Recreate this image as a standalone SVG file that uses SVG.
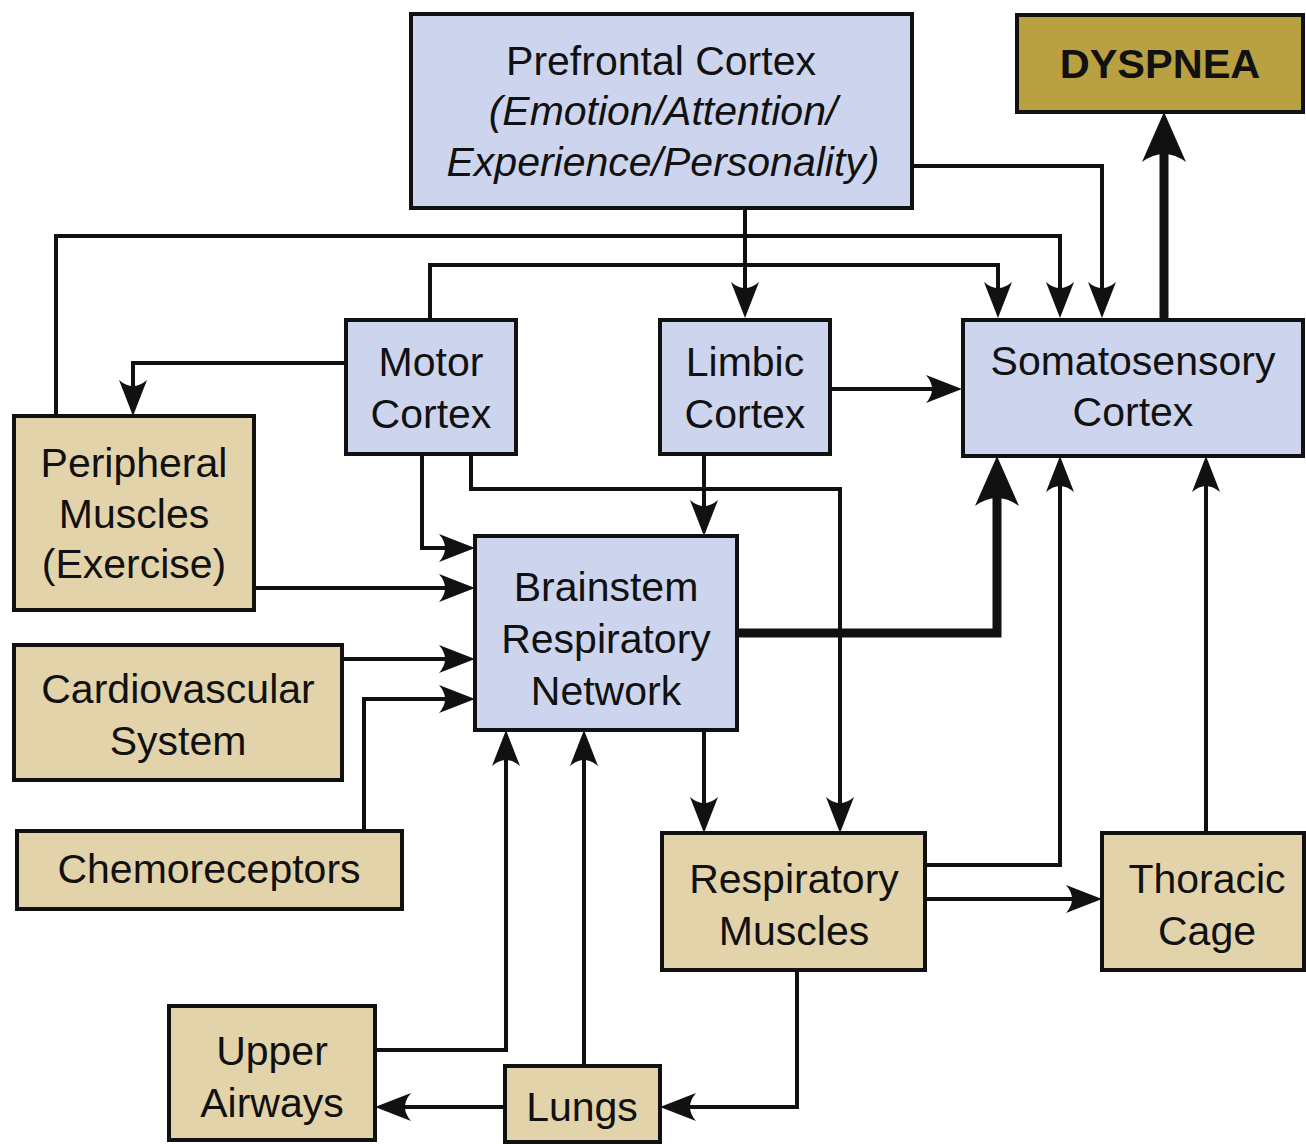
<svg xmlns="http://www.w3.org/2000/svg" width="1306" height="1144" viewBox="0 0 1306 1144">
<style>
.blue{fill:#cdd5ee;stroke:#111;stroke-width:4}
.tan{fill:#e3d3aa;stroke:#111;stroke-width:4}
.gold{fill:#b9a040;stroke:#111;stroke-width:4}
text{font-family:"Liberation Sans",Arial,sans-serif;font-size:41px;fill:#111;text-anchor:middle}
.it{font-style:italic}
.bold{font-weight:bold;font-size:41.5px}
.c{fill:none;stroke:#111;stroke-width:4;stroke-linejoin:miter}
.thin{marker-end:url(#ah)}
.thick{fill:none;stroke:#111;stroke-width:9;stroke-linejoin:miter;marker-end:url(#ahb)}
</style>
<defs>
<marker id="ah" markerUnits="userSpaceOnUse" markerWidth="36" markerHeight="30" refX="14" refY="15" orient="auto">
<path d="M0,1 L36,15 L0,29 Q12,15 0,1 Z" fill="#111"/>
</marker>
<marker id="ahb" markerUnits="userSpaceOnUse" markerWidth="50" markerHeight="44" refX="20" refY="22" orient="auto">
<path d="M0,0 L50,22 L0,44 Q16,22 0,0 Z" fill="#111"/>
</marker>
</defs>
<g id="prefrontal">
<rect class="blue" x="411" y="14" width="501" height="194"/>
<text x="661" y="75">Prefrontal Cortex</text>
<text class="it" x="663" y="125">(Emotion/Attention/</text>
<text class="it" x="663" y="176">Experience/Personality)</text>
</g>
<g id="dyspnea">
<rect class="gold" x="1017" y="15" width="286" height="97"/>
<text class="bold" x="1160" y="78">DYSPNEA</text>
</g>
<g id="motor">
<rect class="blue" x="346" y="320" width="170" height="134"/>
<text x="431" y="376">Motor</text>
<text x="431" y="428">Cortex</text>
</g>
<g id="limbic">
<rect class="blue" x="660" y="320" width="170" height="134"/>
<text x="745" y="376">Limbic</text>
<text x="745" y="428">Cortex</text>
</g>
<g id="somatosensory">
<rect class="blue" x="963" y="320" width="340" height="136"/>
<text x="1133" y="375">Somatosensory</text>
<text x="1133" y="426">Cortex</text>
</g>
<g id="peripheral">
<rect class="tan" x="14" y="416" width="240" height="194"/>
<text x="134" y="477">Peripheral</text>
<text x="134" y="528">Muscles</text>
<text x="134" y="578">(Exercise)</text>
</g>
<g id="brainstem">
<rect class="blue" x="475" y="536" width="262" height="194"/>
<text x="606" y="601">Brainstem</text>
<text x="606" y="653">Respiratory</text>
<text x="606" y="705">Network</text>
</g>
<g id="cardiovascular">
<rect class="tan" x="14" y="645" width="328" height="135"/>
<text x="178" y="703">Cardiovascular</text>
<text x="178" y="755">System</text>
</g>
<g id="chemoreceptors">
<rect class="tan" x="17" y="831" width="385" height="78"/>
<text x="209" y="883">Chemoreceptors</text>
</g>
<g id="respmuscles">
<rect class="tan" x="662" y="833" width="263" height="137"/>
<text x="794" y="893">Respiratory</text>
<text x="794" y="945">Muscles</text>
</g>
<g id="thoracic">
<rect class="tan" x="1102" y="833" width="202" height="137"/>
<text x="1207" y="893">Thoracic</text>
<text x="1207" y="945">Cage</text>
</g>
<g id="upperairways">
<rect class="tan" x="169" y="1006" width="206" height="134"/>
<text x="272" y="1065">Upper</text>
<text x="272" y="1117">Airways</text>
</g>
<g id="lungs">
<rect class="tan" x="505" y="1066" width="155" height="76"/>
<text x="582" y="1121">Lungs</text>
</g>
<g id="connectors">
<path class="c thin" d="M745,208 V296"/>
<path class="c thin" d="M912,166 H1102 V296"/>
<path class="c thin" d="M56,416 V236 H1060 V296"/>
<path class="c thin" d="M430,320 V265 H998 V296"/>
<path class="c thin" d="M346,363 H133 V394"/>
<path class="c thin" d="M830,389 H940"/>
<path class="c thin" d="M422,454 V548 H453"/>
<path class="c thin" d="M471,454 V489 H840 V811"/>
<path class="c thin" d="M704,454 V514"/>
<path class="c thin" d="M254,588 H453"/>
<path class="c thin" d="M342,659 H453"/>
<path class="c thin" d="M364,831 V699 H453"/>
<path class="c thin" d="M704,730 V811"/>
<path class="c thin" d="M375,1050 H506 V752"/>
<path class="c thin" d="M584,1066 V752"/>
<path class="c thin" d="M797,970 V1107 H682"/>
<path class="c thin" d="M505,1107 H397"/>
<path class="c thin" d="M925,865 H1060 V478"/>
<path class="c thin" d="M925,899 H1080"/>
<path class="c thin" d="M1206,833 V478"/>
<path class="thick" d="M737,633 H997 V486"/>
<path class="thick" d="M1164,320 V142"/>
</g>
</svg>
